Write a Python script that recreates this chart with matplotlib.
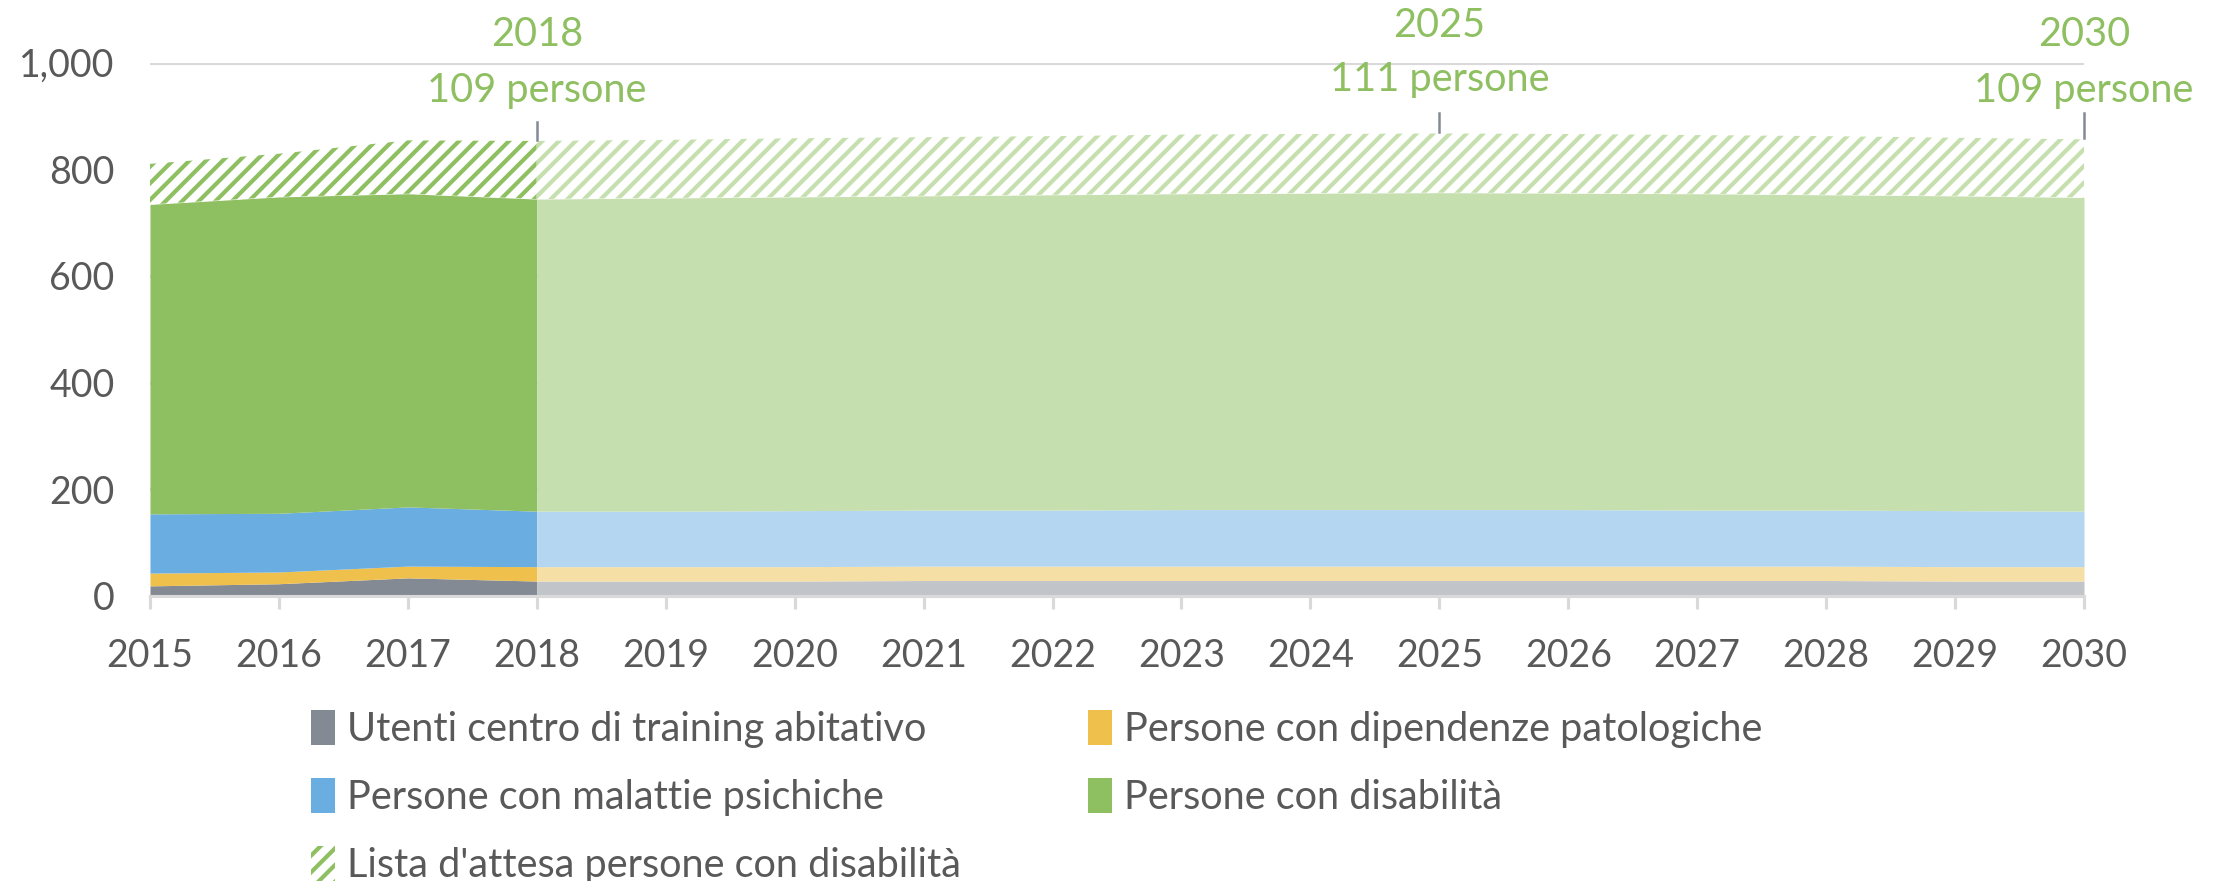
import numpy as np
import matplotlib.pyplot as plt
from matplotlib.patches import Patch

plt.rcParams['font.family'] = ['Lato', 'DejaVu Sans']
plt.rcParams['hatch.linewidth'] = 2.0

# data (persons)
years = [2015, 2016, 2017, 2018, 2019, 2020, 2021, 2022,
         2023, 2024, 2025, 2026, 2027, 2028, 2029, 2030]
training = [19, 23, 34, 28, 28, 28, 29, 29, 29, 29, 29, 29, 29, 29, 28, 28]
dipendenze = [24, 22, 22, 27, 27, 27, 27, 27, 27, 27, 27, 27, 27, 27, 27, 27]
psichiche = [111, 110, 111, 104, 104, 105, 105, 105, 106, 106, 106, 106, 105, 105, 105, 104]
disabilita = [580, 593, 587, 585, 587, 588, 589, 591, 592, 593, 594, 593, 593, 591, 590, 588]
attesa = [76, 81, 100, 109, 109, 110, 110, 110, 111, 111, 111, 111, 110, 110, 109, 109]

labels = ["Utenti centro di training abitativo", "Persone con dipendenze patologiche",
          "Persone con malattie psichiche", "Persone con disabilità",
          "Lista d'attesa persone con disabilità"]
callout_years = [2018, 2025, 2030]

dark = ['#838A94', '#EFC04C', '#6AADE0', '#8EBF60', '#8EBF60']
light = ['#C1C4C9', '#F6DFA4', '#B4D6F0', '#C6DFAF', '#C6DFAF']
txt = '#595959'
grid = '#D9D9D9'

series = np.array([training, dipendenze, psichiche, disabilita, attesa], dtype=float)
tops = np.cumsum(series, axis=0)
bottoms = np.vstack([np.zeros(len(years)), tops[:-1]])
x = np.array(years)

fig = plt.figure(figsize=(2221 / 150, 881 / 150), dpi=150)
ax = fig.add_axes([150 / 2221, 1 - 596 / 881, (2084 - 150) / 2221, (596 - 62.5) / 881])

# history (2015-2018) in full colour, projection (2018-2030) lighter
for part, cols in [(x <= 2018, dark), (x >= 2018, light)]:
    for i in range(len(series)):
        if i == 4:
            ax.fill_between(x[part], bottoms[i][part], tops[i][part], facecolor='white',
                            edgecolor=cols[i], hatch='///', linewidth=0)
        else:
            ax.fill_between(x[part], bottoms[i][part], tops[i][part], color=cols[i], linewidth=0)

ax.set_xlim(2015, 2030)
ax.set_ylim(0, 1000)
ax.set_xticks(years)
ax.set_yticks([0, 200, 400, 600, 800, 1000])
ax.set_yticklabels(['0', '200', '400', '600', '800', '1,000'])
ax.set_axisbelow(True)
ax.yaxis.grid(True, color=grid, linewidth=1.5)
for s in ['top', 'right', 'left']:
    ax.spines[s].set_visible(False)
ax.spines['bottom'].set_color(grid)
ax.spines['bottom'].set_linewidth(1.5)
ax.tick_params(axis='x', length=6, width=1.5, color=grid, pad=14, labelsize=18, labelcolor=txt)
ax.tick_params(axis='y', length=0, pad=17, labelsize=18, labelcolor=txt)

# callouts for the waiting list
for yr in callout_years:
    i = years.index(yr)
    top = tops[4][i]
    ax.plot([yr, yr], [top + 2, 905 if yr != 2018 else 889], color='#838A94',
            linewidth=1.2, clip_on=False)
    ax.text(yr, 947 if yr != 2025 else 968, f"{int(attesa[i])} persone", ha='center', va='center',
            fontsize=19, color='#8EBF60', clip_on=False)
    ax.text(yr, 1052 if yr != 2025 else 1070, str(yr), ha='center', va='center',
            fontsize=19, color='#8EBF60', clip_on=False)

handles = [Patch(facecolor=dark[i], linewidth=0) for i in range(4)]
handles.append(Patch(facecolor='white', edgecolor=dark[4], hatch='///', linewidth=0))
order = [0, 2, 4, 1, 3]
fig.legend([handles[k] for k in order], [labels[k] for k in order], ncol=2,
           loc='upper left', bbox_to_anchor=(311 / 2221, 1 - 710 / 881), frameon=False,
           borderpad=0, borderaxespad=0,
           fontsize=19, labelcolor=txt, handlelength=0.6, handleheight=1.0,
           handletextpad=0.3, columnspacing=3.22, labelspacing=0.75)

fig.savefig('out.png', dpi=150)
